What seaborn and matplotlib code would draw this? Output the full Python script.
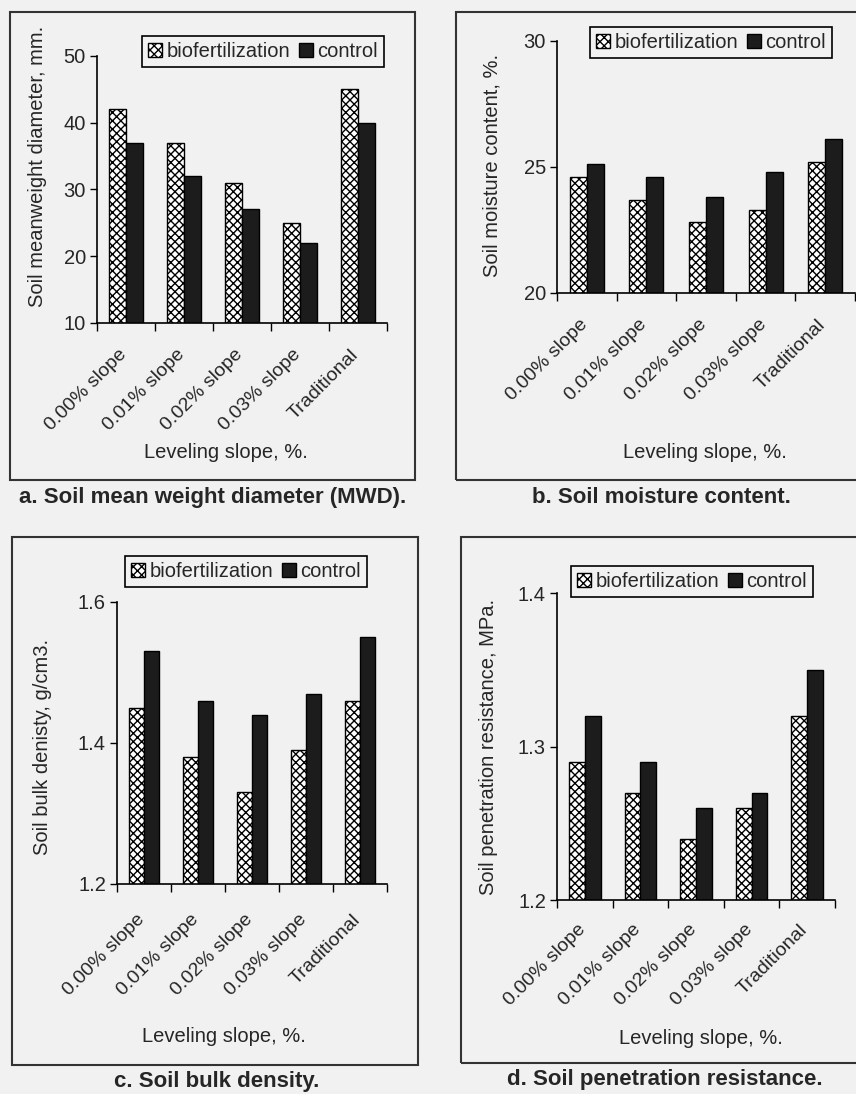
import numpy as np
import pandas as pd
import matplotlib
matplotlib.use("Agg")
import matplotlib.pyplot as plt
import matplotlib.transforms as mtransforms
import seaborn as sns
from matplotlib.patches import Patch, Rectangle

# ---------------- data ----------------
categories = ["0.00% slope", "0.01% slope", "0.02% slope", "0.03% slope", "Traditional"]
series_names = ["biofertilization", "control"]

mwd_bio = [42, 37, 31, 25, 45]
mwd_ctrl = [37, 32, 27, 22, 40]
moist_bio = [24.6, 23.7, 22.8, 23.3, 25.2]
moist_ctrl = [25.1, 24.6, 23.8, 24.8, 26.1]
bulk_bio = [1.45, 1.38, 1.33, 1.39, 1.46]
bulk_ctrl = [1.53, 1.46, 1.44, 1.47, 1.55]
pen_bio = [1.29, 1.27, 1.24, 1.26, 1.32]
pen_ctrl = [1.32, 1.29, 1.26, 1.27, 1.35]

y_labels = ["Soil meanweight diameter, mm.", "Soil moisture content, %.",
            "Soil bulk denisty, g/cm3.", "Soil penetration resistance, MPa."]
y_ticks = [[10, 20, 30, 40, 50], [20, 25, 30], [1.2, 1.4, 1.6], [1.2, 1.3, 1.4]]
y_ticklabels = [["10", "20", "30", "40", "50"], ["20", "25", "30"],
                ["1.2", "1.4", "1.6"], ["1.2", "1.3", "1.4"]]
x_label = "Leveling slope, %."
captions = ["a. Soil mean weight diameter (MWD).", "b. Soil moisture content.",
            "c. Soil bulk density.", "d. Soil penetration resistance."]

panels = [(mwd_bio, mwd_ctrl), (moist_bio, moist_ctrl),
          (bulk_bio, bulk_ctrl), (pen_bio, pen_ctrl)]

# ---------------- style ----------------
sns.set_theme(style="ticks")
plt.rcParams["font.family"] = ["Liberation Sans", "DejaVu Sans"]
plt.rcParams["hatch.linewidth"] = 1.0
TXT = "#262626"
BG = "#f1f1f1"
CTRL = "#1c1c1c"
FS = 14.5
FS_X = 14

W, H = 856, 1094
fig = plt.figure(figsize=(W / 100, H / 100), dpi=100, facecolor=BG)

def fx(x):
    return x / W

def fy(y):
    return 1 - y / H

# axes boxes in pixels: left, right, top, bottom
boxes = [(97, 387, 55.7, 323), (557, 855, 40.7, 293),
         (117, 387, 602, 884), (557, 835, 593, 900)]
ylab_pos = [(37, 166), (492, 165), (43, 747), (488, 747)]
xlab_pos = [(226, 452), (705, 452), (224, 1036), (701, 1038)]
legend_pos = [(263, 51.5), (711, 42.5), (246, 571.5), (692, 581.5)]
frames = [(10, 12, 415, 480), (456, 12, 860, 480), (12, 537, 418, 1065), (461, 537, 860, 1063)]
caption_pos = [(213, 497), (661, 497), (217, 1081), (665, 1080)]
xtick_pad = [23, 23, 27, 21]

for i, (bio, ctrl) in enumerate(panels):
    l, r, t, b = boxes[i]
    ax = fig.add_axes([fx(l), fy(b), fx(r) - fx(l), fy(t) - fy(b)])
    ax.set_facecolor("none")
    df = pd.DataFrame({
        "slope": categories * 2,
        "treatment": [series_names[0]] * len(categories) + [series_names[1]] * len(categories),
        "value": list(bio) + list(ctrl),
    })
    sns.barplot(data=df, x="slope", y="value", hue="treatment", order=categories,
                hue_order=series_names,
                palette={series_names[0]: "white", series_names[1]: CTRL},
                width=0.57, gap=0, saturation=1, edgecolor="black", linewidth=1,
                errorbar=None, legend=False, ax=ax)
    for bar in ax.containers[0]:
        bar.set_hatch("xxxx")
    ax.set_xlim(-0.5, len(categories) - 0.5)
    ax.set_ylim(y_ticks[i][0], y_ticks[i][-1])
    ax.set_yticks(y_ticks[i])
    ax.set_yticklabels(y_ticklabels[i], fontsize=FS, color=TXT)
    ax.set_xticks(range(len(categories)))
    ax.set_xticklabels(categories, rotation=45, ha="right", va="top",
                       rotation_mode="anchor", fontsize=FS_X, color=TXT)
    ax.set_xticks(np.arange(-0.5, len(categories), 1), minor=True)
    ax.tick_params(axis="x", which="major", length=0, pad=xtick_pad[i] * 0.72)
    ax.tick_params(axis="x", which="minor", length=6, width=1, direction="out", color="black")
    ax.tick_params(axis="y", length=5, width=1, direction="out", color="black", pad=3)
    offset = mtransforms.ScaledTranslation(-8 / 100, 0, fig.dpi_scale_trans)
    for lab in ax.get_xticklabels():
        lab.set_transform(lab.get_transform() + offset)
    sns.despine(ax=ax)
    for s in ("left", "bottom"):
        ax.spines[s].set_color("black")
        ax.spines[s].set_linewidth(1.2)

    ax.set_ylabel(y_labels[i], fontsize=FS, color=TXT)
    ax.yaxis.label.set_va("center")
    ax.yaxis.label.set_ha("center")
    ax.yaxis.set_label_coords((ylab_pos[i][0] - l) / (r - l), (b - ylab_pos[i][1]) / (b - t))
    ax.set_xlabel(x_label, fontsize=FS, color=TXT)
    ax.xaxis.label.set_va("center")
    ax.xaxis.set_label_coords((xlab_pos[i][0] - l) / (r - l), (b - xlab_pos[i][1]) / (b - t))

    handles = [Patch(facecolor="white", edgecolor="black", hatch="xxxx", linewidth=1),
               Patch(facecolor=CTRL, edgecolor="black", linewidth=1)]
    leg = fig.legend(handles, series_names, loc="center",
                     bbox_to_anchor=(fx(legend_pos[i][0]), fy(legend_pos[i][1])),
                     ncol=2, frameon=True, fancybox=False, edgecolor="black",
                     facecolor=BG, framealpha=1, fontsize=FS, handlelength=0.7,
                     handleheight=0.7, handletextpad=0.2, columnspacing=0.45,
                     borderpad=0.3, labelcolor=TXT)
    leg.get_frame().set_linewidth(1.2)

    x0, y0, x1, y1 = frames[i]
    fig.add_artist(Rectangle((fx(x0), fy(y1)), fx(x1) - fx(x0), fy(y0) - fy(y1),
                             transform=fig.transFigure, fill=False,
                             edgecolor="#333333", linewidth=1.5))
    fig.text(fx(caption_pos[i][0]), fy(caption_pos[i][1]), captions[i],
             ha="center", va="center", fontsize=16, fontweight="bold", color=TXT)

fig.savefig("out.png", dpi=100, facecolor=BG)
